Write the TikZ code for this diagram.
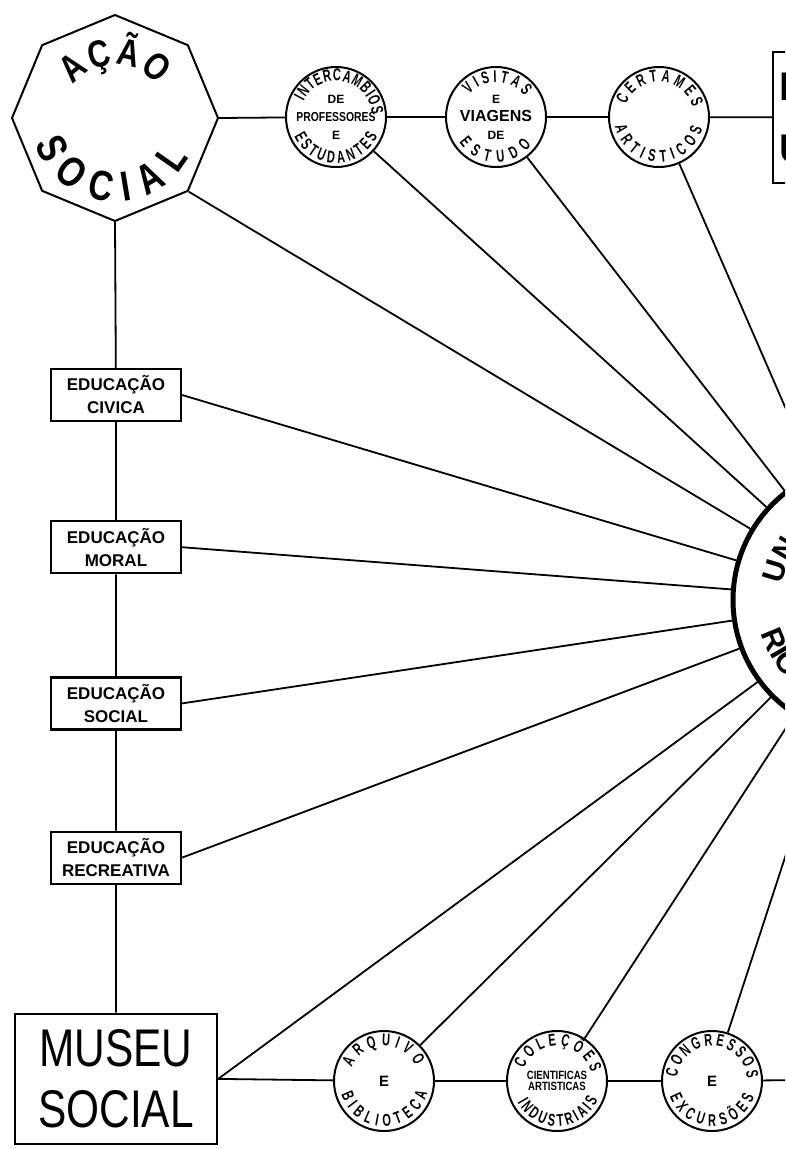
\documentclass[tikz,border=0pt]{standalone}
\usepackage{fontspec}
\setmainfont{Liberation Sans}
\newfontfamily\letfont{Liberation Sans}
\newfontfamily\narfont[FakeStretch=0.8]{Liberation Sans}
\newfontfamily\condfont[FakeStretch=0.65]{Liberation Sans}
\usetikzlibrary{positioning,shapes.geometric,decorations.text}

\newcommand{\discfont}{\condfont\bfseries\fontsize{17}{17}\selectfont}
% lettering bent round a disc: node, radius, from, to, font, text
\newcommand{\arctext}[6]{%
  \path[decorate, decoration={text along path, text align={fit to path}, text={|#5|#6}}]
    (#1) ++(#3:#2) arc[start angle=#3, end angle=#4, radius=#2];}

\begin{document}
\begin{tikzpicture}[x=1pt, y=1pt,
    link/.style={line width=1.8pt},
    edubox/.style={draw, line width=2.2pt, minimum width=130pt, minimum height=52pt, inner sep=2pt, align=center, font=\letfont\bfseries\fontsize{17}{23}\selectfont},
    disc/.style={draw, circle, line width=2pt, minimum size=100pt, inner sep=0pt, align=center, font=\letfont\bfseries\fontsize{12}{18}\selectfont}
  ]
  \useasboundingbox (0,0) rectangle (785,-1149);
  \clip (0,0) rectangle (785,-1149);

  % left column
  \node[draw, regular polygon, regular polygon sides=8, shape border rotate=22.5, minimum size=206pt, inner sep=0pt, line width=2pt] (acao) at (115,-118) {};
  \node[edubox] (civica) at (116,-395) {EDUCAÇÃO\\CIVICA};
  \node[edubox, below=98pt of civica] (moral) {EDUCAÇÃO\\MORAL};
  \node[edubox, below=102pt of moral] (social) {EDUCAÇÃO\\SOCIAL};
  \node[edubox, below=100pt of social] (recreativa) {EDUCAÇÃO\\RECREATIVA};
  \node[draw, line width=2.4pt, minimum width=202pt, minimum height=130pt, align=center, font=\narfont\fontsize{53}{61}\selectfont, below=128pt of recreativa] (museu) {MUSEU\\SOCIAL};

  % top row
  \node[disc] (interc) at (336,-117) {DE\\{\narfont\bfseries\fontsize{13}{18}\selectfont PROFESSORES}\\E};
  \node[disc, right=58pt of interc] (visitas) {E\\{\fontsize{16}{18}\selectfont VIAGENS}\\DE};
  \node[disc, right=61pt of visitas] (certames) {};
  \node[draw, line width=2.2pt, anchor=west, minimum height=131pt, text width=90pt, inner xsep=6pt, align=left, font=\letfont\bfseries\fontsize{40}{62}\selectfont] (topbox) at (772,-117.5) {E\\U};

  % bottom row
  \node[disc] (arquivo) at (384,-1081) {\fontsize{15}{15}\selectfont E};
  \node[disc, right=71pt of arquivo, font=\narfont\bfseries\fontsize{12}{11}\selectfont] (colecoes) {CIENTIFICAS\\ARTISTICAS};
  \node[disc, right=53pt of colecoes] (congressos) {\fontsize{15}{15}\selectfont E};
  \coordinate (bottomend) at (800,-1080);

  % the big disc on the right
  \node[draw, circle, line width=5pt, minimum size=272pt, inner sep=0pt] (univ) at (869,-600) {};

  % lettering
  \arctext{acao}{53}{142}{38}{\narfont\bfseries\fontsize{38}{38}\selectfont}{AÇÃO}
  \arctext{acao}{84}{198}{332}{\narfont\bfseries\fontsize{42}{42}\selectfont}{SOCIAL}
  \arctext{interc}{36}{154}{4}{\discfont}{INTERCAMBIOS}
  \arctext{interc}{46}{205}{335}{\discfont}{ESTUDANTES}
  \arctext{visitas}{35}{140}{36}{\discfont}{VISITAS}
  \arctext{visitas}{45}{215}{322}{\discfont}{ESTUDO}
  \arctext{certames}{35}{160}{16}{\discfont}{CERTAMES}
  \arctext{certames}{45}{192}{345}{\discfont}{ARTISTICOS}
  \arctext{arquivo}{35}{157}{26}{\discfont}{ARQUIVO}
  \arctext{arquivo}{45}{198}{345}{\discfont}{BIBLIOTECA}
  \arctext{colecoes}{35}{160}{14}{\discfont}{COLEÇÕES}
  \arctext{colecoes}{45}{208}{335}{\discfont}{INDUSTRIAIS}
  \arctext{congressos}{35}{174}{4}{\discfont}{CONGRESSOS}
  \arctext{congressos}{45}{200}{340}{\discfont}{EXCURSÕES}
  \path[decorate, decoration={text along path, text={|\letfont\bfseries\fontsize{30}{30}\selectfont|UN}}]
    (univ) ++(170:88) arc[start angle=170, end angle=60, radius=88];
  \path[decorate, decoration={text along path, text={|\letfont\bfseries\fontsize{30}{30}\selectfont|RIO}}]
    (univ) ++(197:113) arc[start angle=197, end angle=330, radius=113];

  % chains
  \draw[link] (acao.0) -- (interc) -- (visitas) -- (certames) -- (topbox);
  \draw[link] (acao.-90) -- (civica) -- (moral) -- (social) -- (recreativa) -- (museu);
  \draw[link] (museu.east) -- (arquivo) -- (colecoes) -- (congressos) -- (bottomend);

  % spokes
  \foreach \src in {certames, visitas, interc, acao.-45, civica.east, moral.east, social.east, recreativa.east, museu.east, arquivo, colecoes, congressos}
    \draw[link] (\src) -- (univ);
\end{tikzpicture}
\end{document}
